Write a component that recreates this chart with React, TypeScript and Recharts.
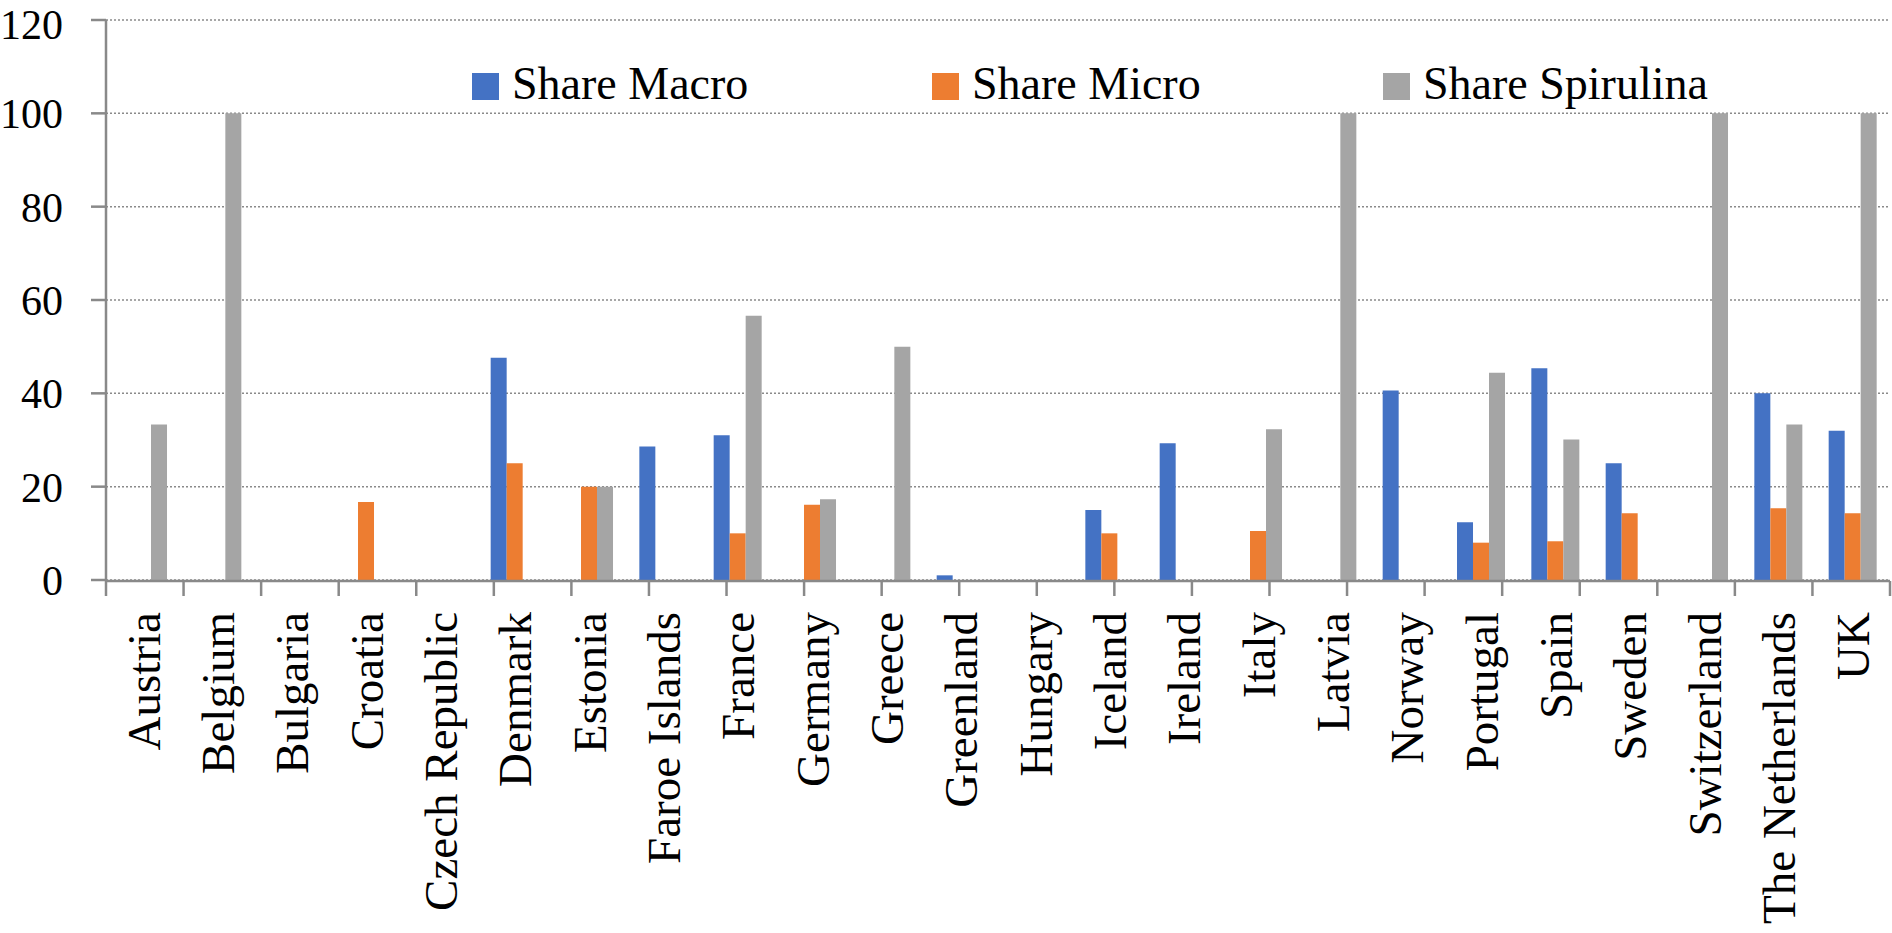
import { BarChart, Bar, XAxis, YAxis, CartesianGrid, Legend } from 'recharts';

const countries = [
  'Austria', 'Belgium', 'Bulgaria', 'Croatia', 'Czech Republic', 'Denmark', 'Estonia', 'Faroe Islands',
  'France', 'Germany', 'Greece', 'Greenland', 'Hungary', 'Iceland', 'Ireland', 'Italy', 'Latvia',
  'Norway', 'Portugal', 'Spain', 'Sweden', 'Switzerland', 'The Netherlands', 'UK',
];
const shareMacro = [0, 0, 0, 0, 0, 47.6, 0, 28.6, 31, 0, 0, 1, 0, 15, 29.3, 0, 0, 40.6, 12.4, 45.4, 25, 0, 40, 32];
const shareMicro = [0, 0, 0, 16.7, 0, 25, 20, 0, 10, 16.1, 0, 0, 0, 10, 0, 10.5, 0, 0, 8, 8.3, 14.3, 0, 15.4, 14.3];
const shareSpirulina = [33.3, 100, 0, 0, 0, 0, 20, 0, 56.6, 17.3, 50, 0, 0, 0, 0, 32.3, 100, 0, 44.4, 30.1, 0, 100, 33.3, 100];
const yTicks = [0, 20, 40, 60, 80, 100, 120];

const series = [
  { key: 'macro', name: 'Share Macro', color: '#4472C4' },
  { key: 'micro', name: 'Share Micro', color: '#ED7D31' },
  { key: 'spirulina', name: 'Share Spirulina', color: '#A5A5A5' },
];

const data = countries.map((country, i) => ({
  country,
  macro: shareMacro[i],
  micro: shareMicro[i],
  spirulina: shareSpirulina[i],
}));

// category boundaries for the Excel-style tick marks between groups
const boundaries = countries.map((_, i) => i).concat(countries.length);

const FONT = '"Liberation Serif", "Times New Roman", serif';
const AXIS = '#898989';

const CategoryTick = ({ x, y, payload }: any) => (
  <text
    x={x}
    y={y + 32}
    transform={`rotate(-90, ${x}, ${y + 32})`}
    textAnchor="end"
    dy="0.35em"
    fill="#000"
    fontSize={47}
    fontFamily={FONT}
  >
    {payload.value}
  </text>
);

const NoLabel = () => <g />;

const LegendRow = () => {
  const starts = [472, 932, 1383];
  return (
    <div style={{ position: 'relative', width: 1892, height: 46 }}>
      {series.map((s, i) => (
        <div key={s.key} style={{ position: 'absolute', left: starts[i], top: 0, height: 46, whiteSpace: 'nowrap' }}>
          <div style={{ position: 'absolute', left: 0, top: 12, width: 27, height: 27, background: s.color }} />
          <span
            style={{
              position: 'absolute',
              left: 40,
              top: 0,
              fontFamily: FONT,
              fontSize: 46,
              lineHeight: '46px',
              color: '#000',
            }}
          >
            {s.name}
          </span>
        </div>
      ))}
    </div>
  );
};

export default function App() {
  return (
    <div style={{ position: 'absolute', left: 0, top: 0, width: 1892, height: 933, background: '#fff' }}>
      <BarChart
        width={1892}
        height={933}
        data={data}
        margin={{ top: 20, right: 2, left: 0, bottom: 0 }}
        barCategoryGap="17.5%"
        barGap={0}
      >
        <CartesianGrid
          xAxisId="cat"
          vertical={false}
          stroke="#8a8a8a"
          strokeDasharray="2 2"
          strokeWidth={1.5}
        />
        <XAxis
          xAxisId="cat"
          dataKey="country"
          interval={0}
          height={1}
          tickSize={0}
          tickMargin={0}
          axisLine={false}
          tickLine={false}
          tick={<CategoryTick />}
        />
        <XAxis
          xAxisId="grid"
          type="number"
          domain={[0, countries.length]}
          ticks={boundaries}
          interval={0}
          allowDataOverflow
          tick={<NoLabel />}
          tickSize={15}
          height={352}
          axisLine={{ stroke: AXIS, strokeWidth: 2.5 }}
          tickLine={{ stroke: AXIS, strokeWidth: 2.5 }}
        />
        <YAxis
          domain={[0, 120]}
          ticks={yTicks}
          width={106}
          tickSize={15}
          tickMargin={28}
          axisLine={{ stroke: AXIS, strokeWidth: 2.5 }}
          tickLine={{ stroke: AXIS, strokeWidth: 2.5 }}
          tick={{ fill: '#000', fontSize: 42, fontFamily: FONT }}
        />
        <Legend
          verticalAlign="middle"
          align="center"
          wrapperStyle={{ top: 61, left: 0, width: 1892 }}
          content={<LegendRow />}
        />
        {series.map((s) => (
          <Bar key={s.key} xAxisId="cat" dataKey={s.key} name={s.name} fill={s.color} isAnimationActive={false} />
        ))}
      </BarChart>
    </div>
  );
}
